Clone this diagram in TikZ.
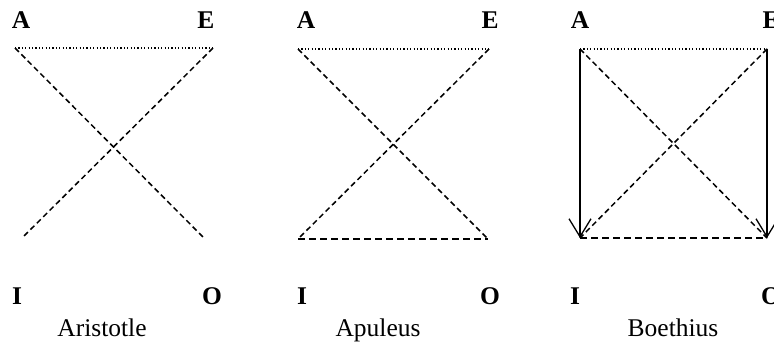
\documentclass[tikz,border=0pt]{standalone}
\usepackage{fontspec}
\setmainfont{Liberation Serif}
\usetikzlibrary{arrows.meta}

\begin{document}
\begin{tikzpicture}[x=1pt,y=-1pt,
  lbl/.style={font=\fontsize{25.5}{30}\selectfont\bfseries,anchor=base,inner sep=0pt},
  ttl/.style={font=\fontsize{25.5}{30}\selectfont,anchor=base,inner sep=0pt},
  dotline/.style={line width=1.3pt,dash pattern=on 1.2pt off 2.2pt},
  diag/.style={line width=1.5pt,dash pattern=on 5.5pt off 3.5pt},
  botline/.style={line width=1.5pt,dash pattern=on 7pt off 4pt},
  subalt/.style={line width=1.3pt,-{Straight Barb[length=18pt,width=22pt,line width=1.3pt]}}]
\useasboundingbox (0,0) rectangle (774,343);

% Aristotle
\coordinate (a1) at (15,48);
\coordinate (e1) at (213,48);
\coordinate (i1) at (22,238);
\coordinate (o1) at (204,238);
\draw[dotline] (a1) -- (e1);
\draw[diag] (a1) -- (o1);
\draw[diag] (e1) -- (i1);
\node[lbl] (A1) at (21,28) {A};
\node[lbl] (E1) at (206,28) {E};
\node[lbl] (I1) at (17,304) {I};
\node[lbl] (O1) at (212,304) {O};
\node[ttl] (t1) at (102,336) {Aristotle};

% Apuleus
\coordinate (a2) at (298,49);
\coordinate (e2) at (489,49);
\coordinate (i2) at (298,239);
\coordinate (o2) at (488,239);
\draw[dotline] (a2) -- (e2);
\draw[diag] (a2) -- (o2);
\draw[diag] (e2) -- (i2);
\draw[botline] (i2) -- (o2);
\node[lbl] (A2) at (306,28) {A};
\node[lbl] (E2) at (490,28) {E};
\node[lbl] (I2) at (302,304) {I};
\node[lbl] (O2) at (490,304) {O};
\node[ttl] (t2) at (378,336) {Apuleus};

% Boethius
\coordinate (a3) at (580,49);
\coordinate (e3) at (767,49);
\coordinate (i3) at (580,238);
\coordinate (o3) at (767,238);
\draw[dotline] (a3) -- (e3);
\draw[diag] (a3) -- (o3);
\draw[diag] (e3) -- (i3);
\draw[botline] (i3) -- (o3);
\draw[subalt] (a3) -- (i3);
\draw[subalt] (e3) -- (o3);
\node[lbl] (A3) at (580,28) {A};
\node[lbl] (E3) at (771,28) {E};
\node[lbl] (I3) at (575,304) {I};
\node[lbl] (O3) at (771,304) {O};
\node[ttl] (t3) at (673,336) {Boethius};
\end{tikzpicture}
\end{document}
